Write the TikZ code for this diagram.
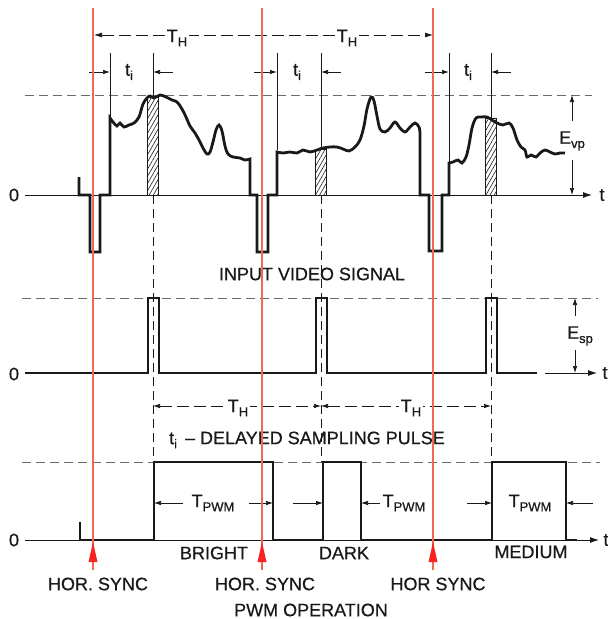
\documentclass[tikz,border=0pt]{standalone}
\usepackage{fontspec}
\setmainfont{Liberation Sans}[FakeBold=0.6]
\usetikzlibrary{arrows.meta,patterns.meta}
\definecolor{syncred}{RGB}{240,105,80}
\definecolor{arrred}{RGB}{250,35,35}
\definecolor{ink}{RGB}{25,25,25}
\definecolor{lvlgray}{RGB}{105,110,95}
\newcommand\sbs[1]{\raisebox{-0.45ex}{\fontsize{13}{13}\selectfont #1}}
\begin{document}
\begin{tikzpicture}[x=1pt,y=-1pt,
  sig/.style={ink,line width=2.8pt,line join=miter},
  sigb/.style={ink,line width=2.3pt,line join=miter},
  axis/.style={ink,line width=0.9pt},
  axarr/.style={ink,line width=0.9pt,-{Latex[length=9pt,width=6pt]}},
  lvl/.style={lvlgray,line width=0.7pt,dash pattern=on 9pt off 5pt},
  ext/.style={ink,line width=0.7pt},
  vdash/.style={ink,line width=0.7pt,dash pattern=on 9pt off 5pt},
  dimarr/.style={ink,line width=0.7pt,-{Latex[length=7pt,width=4.5pt]}},
  dimdash/.style={ink,line width=0.7pt,dash pattern=on 12pt off 5pt},
  hatch/.style={ink,line width=0.7pt,pattern={Lines[angle=60,distance=3.6pt,line width=0.6pt]},pattern color=ink},
  syncline/.style={syncred,line width=1.15pt},
  lbl/.style={font=\fontsize{18}{18}\selectfont,text=ink,inner sep=1pt},
  dimlbl/.style={font=\fontsize{18}{18}\selectfont,text=ink,inner sep=1.5pt,fill=white}
]
\useasboundingbox (0,0) rectangle (608,619);

% ---------- level dashed lines ----------
\draw[lvl] (25,95) -- (592,95);
\draw[lvl] (22,298) -- (598,298);
\draw[lvl] (22,462) -- (600,462);

% ---------- axes ----------
\draw[axarr] (25,195) -- (592,195);
\draw[axarr] (545,373) -- (597,373);
\draw[axarr] (25,540) -- (599,540);
\node[lbl] (t1) at (602,195) {t};
\node[lbl] (t2) at (605,373) {t};
\node[lbl] (t3) at (606,540) {t};
\node[lbl] (z1) at (14,195) {0};
\node[lbl] (z2) at (14,374) {0};
\node[lbl] (z3) at (14,540) {0};

% ---------- hatched sampling windows ----------
\draw[hatch] (147,97) rectangle (158,195);
\draw[hatch] (315,149) rectangle (326,195);
\draw[hatch] (485,118) rectangle (496,195);

% ---------- extension lines ----------
\draw[ext] (110,53) -- (110,118);
\draw[ext] (153,53) -- (153,97);
\draw[ext] (277,53) -- (277,150);
\draw[ext] (321,53) -- (321,149);
\draw[ext] (449,53) -- (449,163);
\draw[ext] (491,53) -- (491,118);
\draw[vdash] (153,195) -- (153,462);
\draw[vdash] (321,195) -- (321,462);
\draw[vdash] (491,195) -- (491,462);

% ---------- input video signal ----------
\draw[sig] (79,177) -- (79,195) -- (90,195) -- (90,252) -- (100,252) -- (100,195) -- (110,195) -- (110,118)
  -- plot[smooth,tension=0.55] coordinates {(110,118) (113,122) (117,126) (120,123) (124,127) (129,125) (134,123) (139,117) (143,104) (147,98) (150,96) (154,98) (160,95) (166,97) (172,100) (177,102) (182,109) (186,117) (190,126) (195,133) (199,140) (203,148) (207,154) (210,152) (213,142) (216,130) (219,125) (222,131) (225,146) (228,154) (233,157) (240,158) (245,160) (250,159)}
  -- (250,195) -- (257,195) -- (257,252) -- (268,252) -- (268,195) -- (277,195) -- (277,152)
  -- plot[smooth,tension=0.55] coordinates {(277,152) (283,153) (290,152) (297,153) (303,150) (310,152) (317,150) (323,148) (330,147) (337,147) (343,149) (349,151) (355,147) (360,140) (364,126) (367,109) (371,97) (374,101) (377,116) (380,129) (385,132) (390,128) (395,122) (400,128) (405,132) (410,127) (415,123) (419,127) (420,133)}
  -- (420,195) -- (429,195) -- (429,251) -- (442,251) -- (442,195) -- (449,195) -- (449,163)
  -- plot[smooth,tension=0.55] coordinates {(449,163) (453,162) (458,160) (462,163) (466,157) (469,145) (472,128) (476,118) (481,117) (487,117) (492,120) (497,123) (503,125) (509,123) (513,128) (517,140) (521,147) (525,150) (527,157) (531,155) (536,157) (540,153) (545,150) (550,152) (555,154) (560,153) (565,153)};

% ---------- sampling pulses ----------
\draw[sigb] (25,373) -- (148,373) -- (148,298) -- (159,298) -- (159,373) -- (316,373) -- (316,298) -- (327,298) -- (327,373) -- (486,373) -- (486,298) -- (497,298) -- (497,373) -- (537,373);

% ---------- PWM signal ----------
\draw[sig] (80,522) -- (80,540) -- (154,540) -- (154,462) -- (273,462) -- (273,540) -- (323,540) -- (323,462) -- (361,462) -- (361,540) -- (492,540) -- (492,462) -- (566,462) -- (566,540) -- (577,540);

% ---------- top T_H dimension ----------
\coordinate (thL) at (94,35);
\coordinate (thR) at (433,35);
\draw[dimdash,{Latex[length=8pt,width=5pt]}-{Latex[length=8pt,width=5pt]}] (thL) -- (thR);
\node[dimlbl] (th1) at (177,38) {T\sbs{H}};
\node[dimlbl] (th2) at (347,38) {T\sbs{H}};

% ---------- t_i dimensions ----------
\draw[dimarr] (89,72) -- (110,72);
\draw[dimarr] (173,72) -- (153,72);
\draw[dimarr] (254,72) -- (277,72);
\draw[dimarr] (341,72) -- (321,72);
\draw[dimarr] (425,72) -- (449,72);
\draw[dimarr] (511,72) -- (491,72);
\node[lbl] (ti1) at (129,72) {t\sbs{i}};
\node[lbl] (ti2) at (297,72) {t\sbs{i}};
\node[lbl] (ti3) at (468,72) {t\sbs{i}};

% ---------- E_vp ----------
\node[lbl] (evp) at (572,141) {E\sbs{vp}};
\draw[dimarr] (572,121) -- (572,95);
\draw[dimarr] (572,160) -- (572,195);

% ---------- E_sp ----------
\node[lbl] (esp) at (580,336) {E\sbs{sp}};
\draw[dimarr] (575,316) -- (575,298);
\draw[dimarr] (575,350) -- (575,373);

\node[lbl] (ivs) at (312,274) {INPUT VIDEO SIGNAL};

% ---------- middle T_H dimensions ----------
\draw[dimdash,{Latex[length=7pt,width=4.5pt]}-{Latex[length=7pt,width=4.5pt]}] (153,406) -- (321,406);
\draw[dimdash,{Latex[length=7pt,width=4.5pt]}-{Latex[length=7pt,width=4.5pt]}] (321,406) -- (491,406);
\node[dimlbl] (th3) at (238,408) {T\sbs{H}};
\node[dimlbl] (th4) at (411,408) {T\sbs{H}};

\node[lbl] (dsp) at (307,440) {t\sbs{i}\, -- DELAYED SAMPLING PULSE};

% ---------- T_PWM dimensions ----------
\draw[dimarr] (183,503) -- (154,503);
\draw[dimarr] (249,503) -- (273,503);
\node[lbl] (tp1) at (213,503) {T\sbs{PWM}};
\draw[dimarr] (293,503) -- (323,503);
\draw[dimarr] (380,503) -- (361,503);
\node[lbl] (tp2) at (404,503) {T\sbs{PWM}};
\draw[dimarr] (467,503) -- (492,503);
\draw[dimarr] (593,503) -- (566,503);
\node[lbl] (tp3) at (530,503) {T\sbs{PWM}};

\node[lbl] (br) at (214,553) {BRIGHT};
\node[lbl] (dk) at (344,553) {DARK};
\node[lbl] (md) at (531,552) {MEDIUM};

% ---------- sync lines and arrows ----------
\foreach \x in {93,262,433}{
  \draw[syncline] (\x,8) -- (\x,570);
  \fill[arrred] (\x-4.5,562) -- (\x,542) -- (\x+4.5,562) -- cycle;
}
\node[lbl] (hs1) at (98,584) {HOR. SYNC};
\node[lbl] (hs2) at (265,584) {HOR. SYNC};
\node[lbl] (hs3) at (438,584) {HOR SYNC};
\node[lbl] (pwm) at (311,610) {PWM OPERATION};
\end{tikzpicture}
\end{document}
